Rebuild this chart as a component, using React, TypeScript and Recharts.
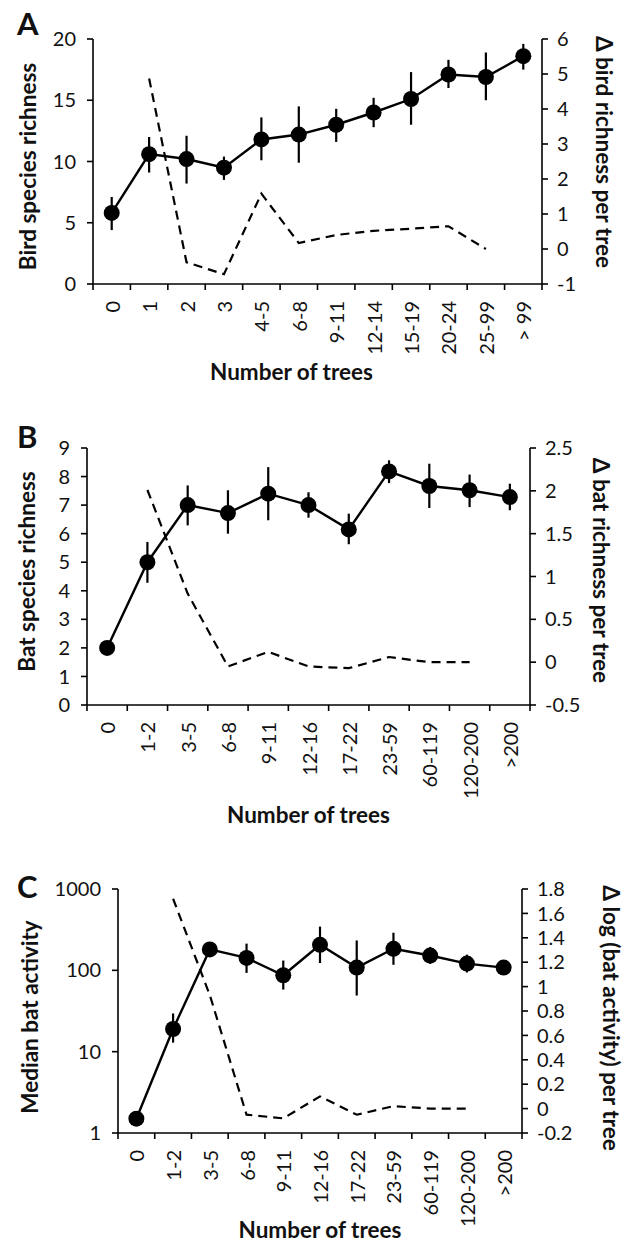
import { ComposedChart, Line, XAxis, YAxis, ErrorBar, Label } from "recharts";

const FONT = "Lato, 'Open Sans', sans-serif";
const INK = "#111";

// A – bird species richness
const birdBins = ["0", "1", "2", "3", "4-5", "6-8", "9-11", "12-14", "15-19", "20-24", "25-99", "> 99"];
const birdRichness = [5.8, 10.6, 10.2, 9.5, 11.8, 12.2, 13.0, 14.0, 15.1, 17.1, 16.9, 18.6];
const birdLow = [4.4, 9.1, 8.2, 8.5, 10.1, 9.9, 11.6, 12.8, 13.0, 16.0, 15.0, 17.5];
const birdHigh = [7.1, 12.0, 12.1, 10.4, 13.6, 14.5, 14.3, 15.2, 17.3, 18.3, 18.9, 19.6];
const birdDelta = [null, 4.87, -0.38, -0.72, 1.58, 0.17, 0.4, 0.52, 0.58, 0.65, 0.0, null];

// B – bat species richness
const batBins = ["0", "1-2", "3-5", "6-8", "9-11", "12-16", "17-22", "23-59", "60-119", "120-200", ">200"];
const batRichness = [2.0, 5.0, 7.0, 6.72, 7.4, 7.0, 6.15, 8.18, 7.67, 7.52, 7.28];
const batLow = [2.0, 4.28, 6.29, 6.0, 6.47, 6.56, 5.63, 7.77, 6.9, 6.93, 6.82];
const batHigh = [2.0, 5.71, 7.69, 7.52, 8.33, 7.45, 6.7, 8.57, 8.45, 8.07, 7.75];
const batDelta = [null, 2.01, 0.8, -0.05, 0.12, -0.05, -0.07, 0.06, 0.0, 0.0, null];

// C – median bat activity (log)
const activity = [1.5, 19, 181, 142, 87, 206, 108, 184, 152, 121, 108];
const activityLow = [1.45, 12.9, 168, 93, 58, 123, 49, 117, 120, 94, 100];
const activityHigh = [1.55, 29.5, 196, 213, 132, 345, 233, 290, 194, 156, 117];
const activityDelta = [null, 1.72, 0.93, -0.05, -0.08, 0.1, -0.05, 0.02, 0.0, 0.0, null];

type AxisCfg = {
  domain: [number, number];
  ticks: number[];
  title: string;
  dx: number;
  dy: number;
  log?: boolean;
};

type PanelProps = {
  top: number;
  height: number;
  marginTop: number;
  leftW: number;
  rightW: number;
  xH: number;
  bins: string[];
  mean: number[];
  low: number[];
  high: number[];
  delta: (number | null)[];
  left: AxisCfg;
  right: AxisCfg;
  xdx: number;
  xdy: number;
};

const W = 627;

const fmt = (v: number) => String(Number(v.toFixed(1)));

function Panel(p: PanelProps) {
  const n = p.bins.length;
  const band = (W - p.leftW - p.rightW) / n;
  const rows = p.bins.map((b, i) => ({
    x: i + 0.5,
    bin: b,
    mean: p.mean[i],
    err: [p.mean[i] - p.low[i], p.high[i] - p.mean[i]],
    delta: p.delta[i],
  }));
  const xticks = Array.from({ length: n + 1 }, (_, i) => i);

  const BinTick = (props: any) => {
    const { x, y, payload } = props;
    const i = payload.value;
    if (i >= n) return <g />;
    const cx = x + band / 2;
    const cy = y + 9;
    return (
      <text
        x={cx}
        y={cy}
        transform={`rotate(-90, ${cx}, ${cy})`}
        textAnchor="end"
        dominantBaseline="central"
        fontSize={20}
        fontFamily={FONT}
        fill={INK}
      >
        {p.bins[i]}
      </text>
    );
  };

  const tickStyle = { fontSize: 20, fontFamily: FONT, fill: INK };
  const titleStyle = { fontSize: 22.5, fontFamily: FONT, fontWeight: 700, fill: INK };

  return (
    <div style={{ position: "absolute", left: 0, top: p.top }}>
      <ComposedChart
        width={W}
        height={p.height}
        data={rows}
        margin={{ top: p.marginTop, right: 0, bottom: 0, left: 0 }}
      >
        <XAxis
          dataKey="x"
          type="number"
          domain={[0, n]}
          ticks={xticks}
          interval={0}
          height={p.xH}
          tick={<BinTick />}
          tickSize={6}
          stroke="#000"
          strokeWidth={1.6}
        >
          <Label value="Number of trees" position="center" dx={p.xdx} dy={p.xdy} style={titleStyle} />
        </XAxis>
        <YAxis
          yAxisId="l"
          orientation="left"
          width={p.leftW}
          domain={p.left.domain}
          ticks={p.left.ticks}
          scale={p.left.log ? "log" : "auto"}
          allowDataOverflow
          interval={0}
          tick={tickStyle}
          tickSize={6}
          tickMargin={11}
          stroke="#000"
          strokeWidth={1.6}
        >
          <Label value={p.left.title} angle={-90} position="center" dx={p.left.dx} dy={p.left.dy} style={titleStyle} />
        </YAxis>
        <YAxis
          yAxisId="r"
          orientation="right"
          width={p.rightW}
          domain={p.right.domain}
          ticks={p.right.ticks}
          allowDataOverflow
          interval={0}
          tick={tickStyle}
          tickFormatter={fmt}
          tickSize={6}
          tickMargin={9}
          stroke="#000"
          strokeWidth={1.6}
        >
          <Label value={p.right.title} angle={90} position="center" dx={p.right.dx} dy={p.right.dy} style={titleStyle} />
        </YAxis>
        <Line
          yAxisId="r"
          dataKey="delta"
          stroke="#000"
          strokeWidth={2.2}
          strokeDasharray="9 6"
          dot={false}
          activeDot={false}
          connectNulls={false}
          isAnimationActive={false}
        />
        <Line
          yAxisId="l"
          dataKey="mean"
          stroke="#000"
          strokeWidth={2.4}
          dot={{ r: 8, fill: "#000", stroke: "#000", strokeWidth: 0 }}
          activeDot={false}
          isAnimationActive={false}
        >
          <ErrorBar dataKey="err" direction="y" width={0} stroke="#000" strokeWidth={2.2} />
        </Line>
      </ComposedChart>
    </div>
  );
}

export default function App() {
  return (
    <div style={{ position: "absolute", left: 0, top: 0, width: W, height: 1245, background: "#fff" }}>
      <Panel
        top={0}
        height={395}
        marginTop={39}
        leftW={93}
        rightW={85}
        xH={111}
        bins={birdBins}
        mean={birdRichness}
        low={birdLow}
        high={birdHigh}
        delta={birdDelta}
        left={{ domain: [0, 20], ticks: [0, 5, 10, 15, 20], title: "Bird species richness", dx: -18.5, dy: 5 }}
        right={{ domain: [-1, 6], ticks: [-1, 0, 1, 2, 3, 4, 5, 6], title: "Δ bird richness per tree", dx: 19, dy: -9.5 }}
        xdx={-26}
        xdy={33}
      />
      <Panel
        top={410}
        height={420}
        marginTop={38}
        leftW={87}
        rightW={97}
        xH={125}
        bins={batBins}
        mean={batRichness}
        low={batLow}
        high={batHigh}
        delta={batDelta}
        left={{ domain: [0, 9], ticks: [0, 1, 2, 3, 4, 5, 6, 7, 8, 9], title: "Bat species richness", dx: -16, dy: -5 }}
        right={{ domain: [-0.5, 2.5], ticks: [-0.5, 0, 0.5, 1, 1.5, 2, 2.5], title: "Δ bat richness per tree", dx: 22, dy: -6 }}
        xdx={0}
        xdy={48}
      />
      <Panel
        top={850}
        height={395}
        marginTop={39}
        leftW={118}
        rightW={105}
        xH={112}
        bins={batBins}
        mean={activity}
        low={activityLow}
        high={activityHigh}
        delta={activityDelta}
        left={{ domain: [1, 1000], ticks: [1, 10, 100, 1000], title: "Median bat activity", dx: -29, dy: 6, log: true }}
        right={{
          domain: [-0.2, 1.8],
          ticks: [-0.2, 0, 0.2, 0.4, 0.6, 0.8, 1, 1.2, 1.4, 1.6, 1.8],
          title: "Δ log (bat activity) per tree",
          dx: 36,
          dy: 7,
        }}
        xdx={0}
        xdy={41}
      />
      <svg width={W} height={1245} style={{ position: "absolute", left: 0, top: 0, pointerEvents: "none" }}>
        <text x={17} y={35} fontSize={31} fontWeight={700} fontFamily={FONT} fill={INK}>A</text>
        <text x={17} y={448} fontSize={31} fontWeight={700} fontFamily={FONT} fill={INK}>B</text>
        <text x={17} y={898} fontSize={31} fontWeight={700} fontFamily={FONT} fill={INK}>C</text>
      </svg>
    </div>
  );
}
